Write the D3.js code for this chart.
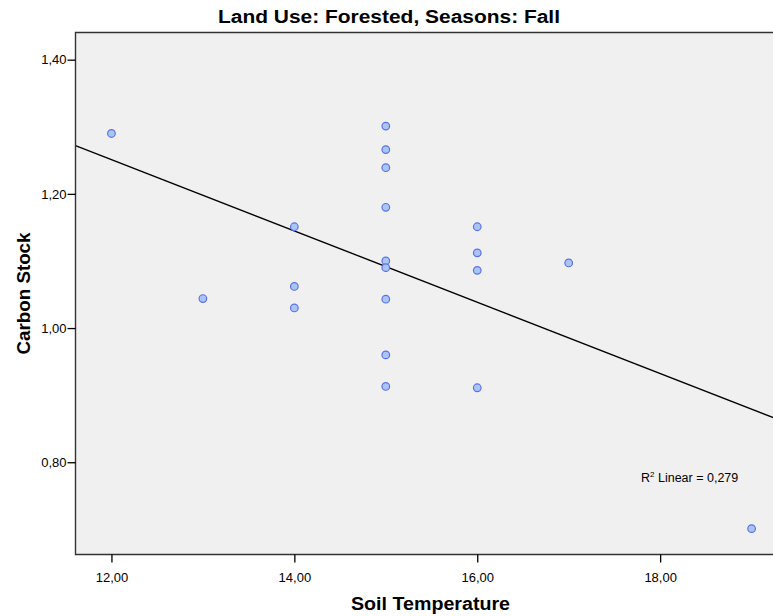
<!DOCTYPE html>
<html>
<head>
<meta charset="utf-8">
<script src="https://cdn.jsdelivr.net/npm/d3@7"></script>
<style>
  html, body { margin: 0; padding: 0; background: #ffffff; }
  svg { display: block; }
  text { font-family: "Liberation Sans", Arial, sans-serif; fill: #000; }
</style>
</head>
<body>
<svg id="chart" width="773" height="616"></svg>
<script>
// Soil temperature (x) and carbon stock (y) for each sample
const soilTemperature = [12, 13, 14, 14, 14, 15, 15, 15, 15, 15, 15, 15, 15, 15, 16, 16, 16, 16, 17, 19];
const carbonStock     = [1.290, 1.044, 1.151, 1.062, 1.030,
                         1.301, 1.266, 1.239, 1.180, 1.100, 1.090, 1.043, 0.960, 0.913,
                         1.151, 1.112, 1.086, 0.911, 1.097, 0.701];
const xTicks = [12, 14, 16, 18];
const yTicks = [0.80, 1.00, 1.20, 1.40];
const titleText = "Land Use: Forested, Seasons: Fall";
const xTitle = "Soil Temperature";
const yTitle = "Carbon Stock";
const r2Label = "0,279";

const plot = { left: 75.5, top: 32.5, right: 774, bottom: 554.5 };

const svg = d3.select("#chart");

const x = d3.scaleLinear().domain([11.607, 19.245]).range([plot.left, plot.right]);
const y = d3.scaleLinear().domain([0.6625, 1.4405]).range([plot.bottom, plot.top]);

const fmt = v => d3.format(".2f")(v).replace(".", ",");

// plot background
svg.append("rect")
  .attr("x", plot.left).attr("y", plot.top)
  .attr("width", plot.right - plot.left).attr("height", plot.bottom - plot.top)
  .attr("fill", "#f0f0f0");

// least-squares fit line
const n = soilTemperature.length;
const mx = d3.mean(soilTemperature), my = d3.mean(carbonStock);
let sxy = 0, sxx = 0;
for (let i = 0; i < n; i++) {
  sxy += (soilTemperature[i] - mx) * (carbonStock[i] - my);
  sxx += (soilTemperature[i] - mx) ** 2;
}
const slope = sxy / sxx, intercept = my - slope * mx;
const [x0, x1] = x.domain();
svg.append("line")
  .attr("x1", x(x0)).attr("y1", y(intercept + slope * x0))
  .attr("x2", x(x1)).attr("y2", y(intercept + slope * x1))
  .attr("stroke", "#000").attr("stroke-width", 1.4);

// points
svg.append("g").selectAll("circle")
  .data(soilTemperature.map((t, i) => [t, carbonStock[i]]))
  .join("circle")
  .attr("cx", d => x(d[0])).attr("cy", d => y(d[1]))
  .attr("r", 3.8)
  .attr("fill", "#a9c6f2")
  .attr("stroke", "#5c6ff2")
  .attr("stroke-width", 1.2);

// frame (left, top, bottom)
svg.append("path")
  .attr("d", `M${plot.right},${plot.top}H${plot.left}V${plot.bottom}H${plot.right}`)
  .attr("fill", "none").attr("stroke", "#333").attr("stroke-width", 1.4);

// axes
const xAxis = d3.axisBottom(x).tickValues(xTicks).tickFormat(fmt).tickSize(8).tickSizeOuter(0);
const gx = svg.append("g").attr("transform", `translate(0,${plot.bottom})`).call(xAxis);
gx.select(".domain").remove();
gx.selectAll(".tick line").attr("stroke", "#000").attr("stroke-width", 1.3);
gx.selectAll(".tick text").attr("font-family", "Liberation Sans, Arial, sans-serif")
  .attr("font-size", 13).attr("fill", "#000").attr("y", 18);

const yAxis = d3.axisLeft(y).tickValues(yTicks).tickFormat(fmt).tickSize(8).tickSizeOuter(0);
const gy = svg.append("g").attr("transform", `translate(${plot.left},0)`).call(yAxis);
gy.select(".domain").remove();
gy.selectAll(".tick line").attr("stroke", "#000").attr("stroke-width", 1.3);
gy.selectAll(".tick text").attr("font-family", "Liberation Sans, Arial, sans-serif")
  .attr("font-size", 13).attr("fill", "#000").attr("x", -9);

// title
svg.append("text")
  .attr("x", 389).attr("y", 23)
  .attr("text-anchor", "middle")
  .attr("font-weight", "bold").attr("font-size", 18)
  .attr("textLength", 342).attr("lengthAdjust", "spacingAndGlyphs")
  .text(titleText);

// axis titles
svg.append("text")
  .attr("x", 430.5).attr("y", 610)
  .attr("text-anchor", "middle")
  .attr("font-weight", "bold").attr("font-size", 17.5)
  .attr("textLength", 159).attr("lengthAdjust", "spacingAndGlyphs")
  .text(xTitle);

svg.append("text")
  .attr("transform", `translate(30,${(plot.top + plot.bottom) / 2}) rotate(-90)`)
  .attr("text-anchor", "middle")
  .attr("font-weight", "bold").attr("font-size", 17.5)
  .attr("textLength", 122).attr("lengthAdjust", "spacingAndGlyphs")
  .text(yTitle);

// R² annotation
const ann = svg.append("text")
  .attr("x", 641).attr("y", 482)
  .attr("font-size", 12.5);
ann.append("tspan").text("R");
ann.append("tspan").attr("font-size", 8).attr("dy", -5).text("2");
ann.append("tspan").attr("dy", 5).text(" Linear = " + r2Label);
</script>
</body>
</html>
